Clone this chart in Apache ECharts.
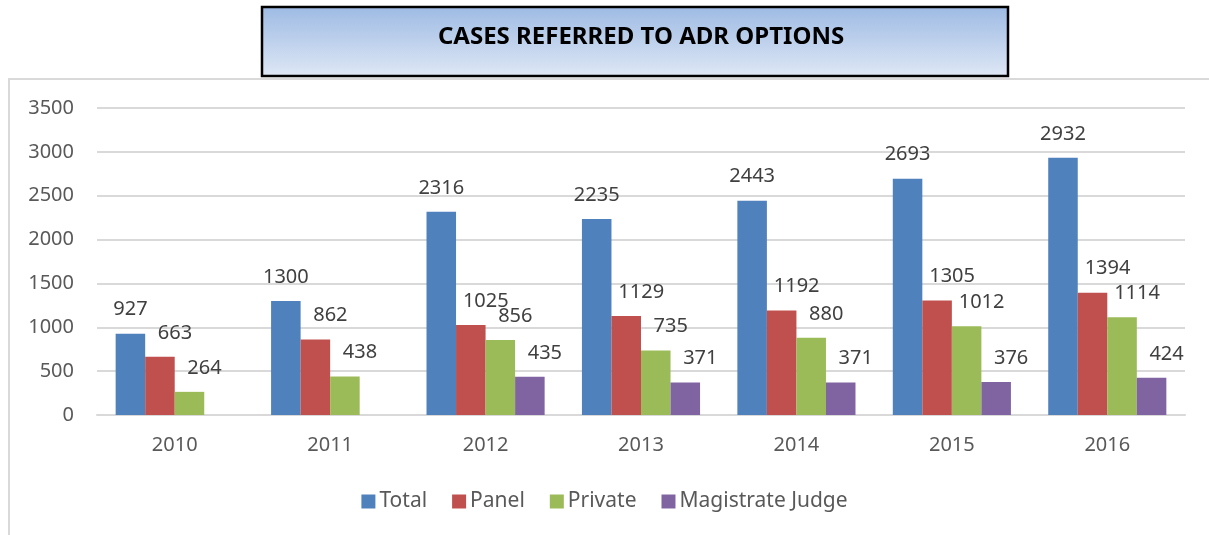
<!DOCTYPE html>
<html>
<head>
<meta charset="utf-8">
<script src="https://cdn.jsdelivr.net/npm/echarts@6/dist/echarts.min.js"></script>
<style>
  html, body { margin: 0; padding: 0; background: #fff; }
  #main { width: 1209px; height: 535px; }
</style>
</head>
<body>
<div id="main"></div>
<script>
const years = ['2010', '2011', '2012', '2013', '2014', '2015', '2016']
const total = [927, 1300, 2316, 2235, 2443, 2693, 2932]
const panel = [663, 862, 1025, 1129, 1192, 1305, 1394]
const privateCases = [264, 438, 856, 735, 880, 1012, 1114]
const magistrate = [null, null, 435, 371, 371, 376, 424]
const yTicks = [0, 500, 1000, 1500, 2000, 2500, 3000, 3500]

const font = 'Noto Sans'
const colors = ['#4f81bd', '#c0504d', '#9bbb59', '#8064a2']

function makeSeries(name, data, idx) {
  return {
    name: name,
    type: 'bar',
    data: data,
    barGap: '0%',
    barCategoryGap: '24%',
    itemStyle: { color: colors[idx] },
    label: {
      show: true,
      position: 'top',
      distance: 14,
      offset: [idx === 0 ? 0 : 15, 0],
      color: '#404040',
      fontFamily: font,
      fontSize: 20
    }
  }
}

var myChart = echarts.init(document.getElementById('main'))

option = {
  animation: false,
  color: colors,
  title: {
    text: 'CASES REFERRED TO ADR OPTIONS',
    left: 636,
    top: 20,
    textAlign: 'center',
    textStyle: { fontFamily: font, fontWeight: 'bold', fontSize: 24, color: '#000' }
  },
  graphic: [
    {
      type: 'rect',
      z: -10,
      shape: { x: 9, y: 79, width: 1300, height: 600 },
      style: { fill: '#fff', stroke: '#d9d9d9', lineWidth: 2 }
    },
    {
      type: 'rect',
      z: -5,
      shape: { x: 262, y: 7, width: 746, height: 69 },
      style: {
        fill: new echarts.graphic.LinearGradient(0, 0, 0, 1, [
          { offset: 0, color: '#9dbae3' },
          { offset: 1, color: '#dfe8f5' }
        ]),
        stroke: '#000',
        lineWidth: 2.5
      }
    }
  ],
  legend: {
    bottom: 18,
    left: 'center',
    itemWidth: 14,
    itemHeight: 14,
    itemGap: 25,
    icon: 'rect',
    textStyle: { fontFamily: font, fontSize: 21, color: '#595959', padding: [0, 0, 0, -1] },
    data: ['Total', 'Panel', 'Private', 'Magistrate Judge']
  },
  grid: { left: 97, right: 24, top: 108, bottom: 120 },
  xAxis: {
    type: 'category',
    data: years,
    axisLine: { lineStyle: { color: '#d9d9d9', width: 2 } },
    axisTick: { show: false },
    axisLabel: { fontFamily: font, fontSize: 20, color: '#595959', margin: 20 }
  },
  yAxis: {
    type: 'value',
    min: yTicks[0],
    max: yTicks[yTicks.length - 1],
    interval: 500,
    axisLine: { show: false },
    axisTick: { show: false },
    splitLine: { lineStyle: { color: '#d9d9d9', width: 2 } },
    axisLabel: {
      fontFamily: font, fontSize: 20, color: '#595959', margin: 23,
      formatter: function (v) { return String(v) }
    }
  },
  series: [
    makeSeries('Total', total, 0),
    makeSeries('Panel', panel, 1),
    makeSeries('Private', privateCases, 2),
    makeSeries('Magistrate Judge', magistrate, 3)
  ]
}

myChart.setOption(option)
</script>
</body>
</html>
